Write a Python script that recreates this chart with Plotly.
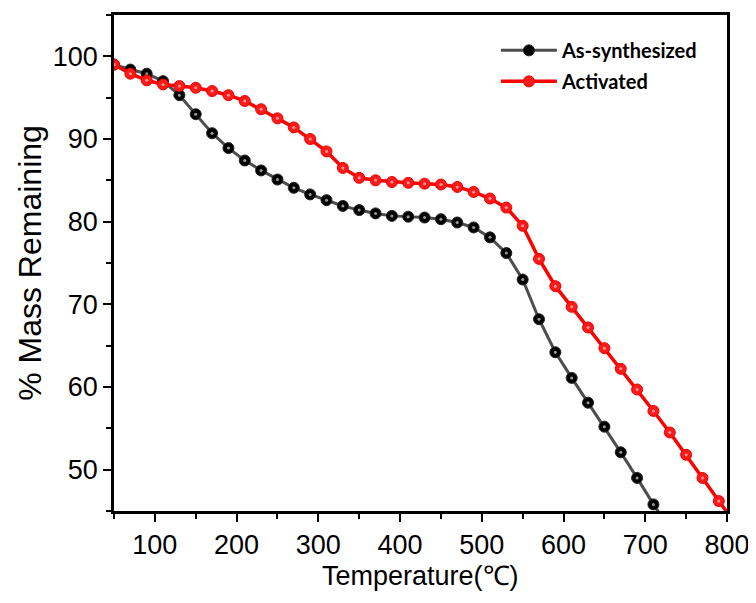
import plotly.graph_objects as go

temps_as = [50, 70, 90, 110, 130, 150, 170, 190, 210, 230, 250, 270, 290, 310, 330,
            350, 370, 390, 410, 430, 450, 470, 490, 510, 530, 550, 570, 590, 610, 630,
            650, 670, 690, 710, 730]
mass_as = [99.0, 98.4, 97.9, 97.0, 95.3, 93.0, 90.7, 88.9, 87.4, 86.2, 85.1, 84.1, 83.3,
           82.6, 81.9, 81.4, 81.0, 80.7, 80.6, 80.5, 80.3, 79.9, 79.3, 78.1, 76.2, 73.0,
           68.2, 64.2, 61.1, 58.1, 55.2, 52.1, 49.0, 45.8, 42.9]

temps_act = [50, 70, 90, 110, 130, 150, 170, 190, 210, 230, 250, 270, 290, 310, 330,
             350, 370, 390, 410, 430, 450, 470, 490, 510, 530, 550, 570, 590, 610, 630,
             650, 670, 690, 710, 730, 750, 770, 790, 810]
mass_act = [99.0, 97.9, 97.1, 96.6, 96.4, 96.2, 95.8, 95.3, 94.6, 93.6, 92.5, 91.4, 90.0,
            88.5, 86.5, 85.3, 85.0, 84.8, 84.7, 84.6, 84.5, 84.2, 83.6, 82.8, 81.7, 79.5,
            75.5, 72.2, 69.7, 67.2, 64.7, 62.2, 59.7, 57.1, 54.5, 51.8, 49.0, 46.2, 43.5]

x_ticks = [100, 200, 300, 400, 500, 600, 700, 800]
y_ticks = [50, 60, 70, 80, 90, 100]

x_title = "Temperature(℃)"
y_title = "% Mass Remaining"

fig = go.Figure()
fig.add_trace(go.Scatter(
    x=temps_as, y=mass_as, mode="lines+markers", name="As-synthesized",
    legendgroup="a",
    line=dict(color="#4d4d4d", width=3),
    marker=dict(color="black", size=11, line=dict(color="#222222", width=1)),
))
fig.add_trace(go.Scatter(
    x=temps_as, y=mass_as, mode="markers", showlegend=False, hoverinfo="skip",
    marker=dict(color="#9a9a9a", size=3),
))
fig.add_trace(go.Scatter(
    x=temps_act, y=mass_act, mode="lines+markers", name="Activated",
    legendgroup="b",
    line=dict(color="#ff0000", width=3.5),
    marker=dict(color="#ff1a1a", size=11, line=dict(color="#ee0000", width=1)),
))
fig.add_trace(go.Scatter(
    x=temps_act, y=mass_act, mode="markers", showlegend=False, hoverinfo="skip",
    marker=dict(color="#ff9a9a", size=3),
))

axis_common = dict(
    showgrid=False, zeroline=False,
    showline=True, linecolor="black", linewidth=2.5, mirror=True,
    ticks="outside", ticklen=8, tickwidth=2, tickcolor="black",
    tickfont=dict(family="Liberation Sans, Arial", size=27, color="black"),
    ticklabeloverflow="allow",
    automargin=False,
)

fig.update_layout(
    width=748, height=587,
    margin=dict(l=106, r=29, t=7, b=84),
    paper_bgcolor="white", plot_bgcolor="white",
    xaxis=dict(range=[50, 800], tickvals=x_ticks,
               minor=dict(dtick=50, tick0=0, ticks="outside", ticklen=5, tickwidth=2, tickcolor="black"),
               **axis_common),
    yaxis=dict(range=[45, 105], tickvals=y_ticks,
               minor=dict(dtick=5, tick0=0, ticks="outside", ticklen=5, tickwidth=2, tickcolor="black"),
               title=dict(text=y_title, font=dict(family="Liberation Sans, Arial", size=32, color="black"),
                          standoff=2),
               **axis_common),
    legend=dict(x=0.623, y=0.968, xanchor="left", yanchor="top",
                font=dict(family="Lato", size=20, color="black", weight="bold"),
                itemwidth=56, tracegroupgap=2, bgcolor="rgba(0,0,0,0)"),
    showlegend=True,
)

fig.add_annotation(
    text=x_title, xref="paper", yref="paper", x=0.5, y=0,
    xanchor="center", yanchor="middle", yshift=-65, showarrow=False,
    font=dict(family="Liberation Sans, Arial", size=27, color="black"),
)

fig.write_html("out.html")
